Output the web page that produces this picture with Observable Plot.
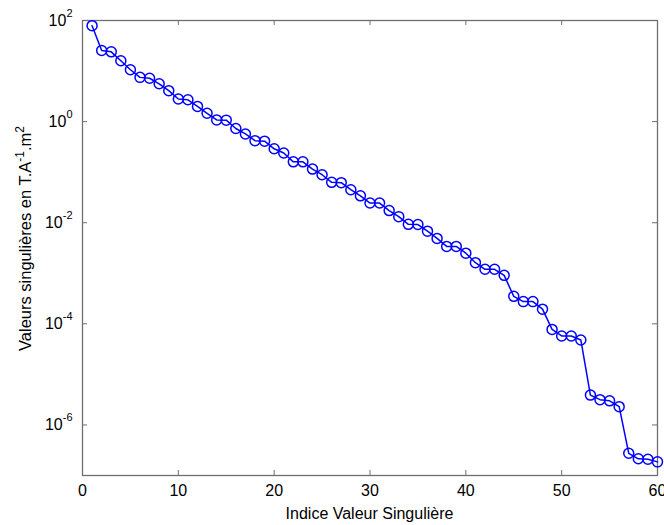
<!DOCTYPE html>
<html><head><meta charset="utf-8">
<script src="https://cdn.jsdelivr.net/npm/d3@7"></script>
<script src="https://cdn.jsdelivr.net/npm/@observablehq/plot@0.6"></script>
<style>
body{margin:0;background:#fff;}
svg{display:block;}
</style>
</head><body><div id="chart"></div>
<script>
// --- data ---
const indices = [1,2,3,4,5,6,7,8,9,10,11,12,13,14,15,16,17,18,19,20,
  21,22,23,24,25,26,27,28,29,30,31,32,33,34,35,36,37,38,39,40,
  41,42,43,44,45,46,47,48,49,50,51,52,53,54,55,56,57,58,59,60];
const values = [79, 25.5, 24, 16, 10.6, 7.5, 7.2, 5.6, 4.1, 2.8,
  2.7, 2.0, 1.46, 1.08, 1.07, 0.73, 0.57, 0.42, 0.41, 0.29,
  0.24, 0.16, 0.16, 0.115, 0.089, 0.063, 0.062, 0.045, 0.034, 0.0245,
  0.0245, 0.0174, 0.0132, 0.0093, 0.0092, 0.0068, 0.0049, 0.0034, 0.0034, 0.0025,
  0.00162, 0.0012, 0.0012, 0.00091, 0.00035, 0.000275, 0.000275, 0.000195, 0.0000776, 0.0000575,
  0.0000575, 0.0000479, 3.9e-6, 3.16e-6, 3.0e-6, 2.3e-6, 2.75e-7, 2.14e-7, 2.1e-7, 1.86e-7];
const xTicks = [0, 10, 20, 30, 40, 50, 60];
const yTicks = [1e2, 1e0, 1e-2, 1e-4, 1e-6];
const xDomain = [0, 60];
const yDomain = [1e-7, 1e2];
const xLabel = "Indice Valeur Singulière";
const yLabelParts = [["Valeurs singulières en T.A", false], ["-1", true], [".m", false], ["2", true]];

// --- layout ---
const W = 664, H = 525, mL = 82, mR = 7, mT = 20, mB = 50;
const plotW = W - mL - mR, plotH = H - mT - mB;
const tickLen = 5;
const frameColor = "#6f6f6f";
const lineColor = "#0000ff";
const font = "'Liberation Sans', Arial, Helvetica, sans-serif";

const data = indices.map((i, k) => ({i, v: values[k]}));

const svg = Plot.plot({
  width: W, height: H,
  marginLeft: mL, marginRight: mR, marginTop: mT, marginBottom: mB,
  style: {fontFamily: font, fontSize: "16px", background: "#fff", color: "#000", overflow: "visible"},
  x: {domain: xDomain, label: null},
  y: {type: "log", domain: yDomain, label: null},
  marks: [
    Plot.frame({stroke: frameColor, strokeWidth: 1.3}),
    Plot.tickX(xTicks, {x: d => d, stroke: frameColor, strokeWidth: 1, insetTop: plotH - tickLen}),
    Plot.tickX(xTicks, {x: d => d, stroke: frameColor, strokeWidth: 1, insetBottom: plotH - tickLen}),
    Plot.tickY(yTicks, {y: d => d, stroke: frameColor, strokeWidth: 1, insetRight: plotW - tickLen}),
    Plot.tickY(yTicks, {y: d => d, stroke: frameColor, strokeWidth: 1, insetLeft: plotW - tickLen}),
    Plot.axisX(xTicks, {tickSize: 0, tickPadding: 9, fontSize: 16, label: null}),
    Plot.axisY(yTicks, {tickSize: 0, tickPadding: 10, fontSize: 16, label: null,
      tickFormat: d => String(Math.round(Math.log10(d)))}),
    Plot.line(data, {x: "i", y: "v", stroke: lineColor, strokeWidth: 1.5}),
    Plot.dot(data, {x: "i", y: "v", r: 5, stroke: lineColor, strokeWidth: 1.5, fill: "none"})
  ]
});

// superscript tick labels 10^n
d3.select(svg).selectAll('g[aria-label="y-axis tick label"] text').each(function() {
  const t = d3.select(this);
  const exp = t.text();
  t.text(null);
  t.append("tspan").text("10");
  t.append("tspan").attr("font-size", 11).attr("dy", -9).text(exp);
});

// axis titles
const s = d3.select(svg);
s.append("text")
  .attr("x", mL + plotW / 2).attr("y", 519)
  .attr("text-anchor", "middle")
  .attr("font-family", font).attr("font-size", 16).attr("fill", "#000")
  .text(xLabel);

const yl = s.append("text")
  .attr("transform", `translate(31,${mT + plotH / 2 - 9}) rotate(-90)`)
  .attr("text-anchor", "middle")
  .attr("font-family", font).attr("font-size", 16.5).attr("fill", "#000");
let raised = false;
for (const [txt, sup] of yLabelParts) {
  const ts = yl.append("tspan").text(txt);
  if (sup && !raised) { ts.attr("font-size", 12).attr("dy", -7); raised = true; }
  else if (sup && raised) { ts.attr("font-size", 12); }
  else if (!sup && raised) { ts.attr("dy", 7); raised = false; }
}

document.getElementById("chart").appendChild(svg);
</script>
</body></html>
